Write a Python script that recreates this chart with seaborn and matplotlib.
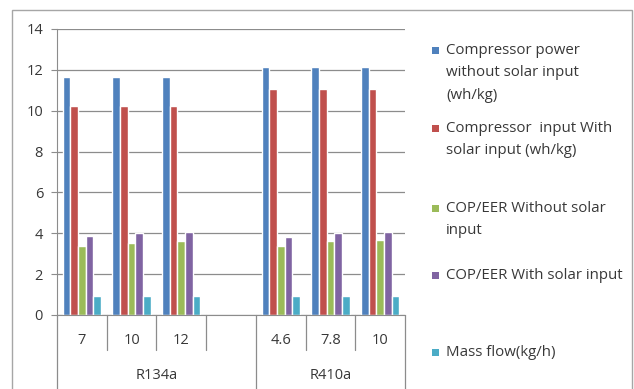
import numpy as np
import pandas as pd
import matplotlib
matplotlib.use("Agg")
import matplotlib.pyplot as plt
import matplotlib.transforms as mtransforms
from matplotlib.patches import Rectangle
import seaborn as sns

# category axis: two levels, one empty slot between the refrigerants
slots = ["s0", "s1", "s2", "s3", "s4", "s5", "s6"]
tick_labels = ["7", "10", "12", "", "4.6", "7.8", "10"]
groups = ["R134a", "R410a"]
group_spans = [(0, 3), (4, 6)]
data_slots = ["s0", "s1", "s2", "s4", "s5", "s6"]

series = ["Compressor power\nwithout solar input\n(wh/kg)",
          "Compressor  input With\nsolar input (wh/kg)",
          "COP/EER Without solar\ninput",
          "COP/EER With solar input",
          "Mass flow(kg/h)"]
comp_no_solar = [11.65, 11.65, 11.65, 12.15, 12.15, 12.15]
comp_solar = [10.25, 10.25, 10.25, 11.05, 11.05, 11.05]
cop_no_solar = [3.4, 3.52, 3.6, 3.4, 3.6, 3.65]
cop_solar = [3.85, 4.0, 4.05, 3.8, 4.0, 4.08]
mass_flow = [0.93, 0.93, 0.93, 0.93, 0.93, 0.93]
colors = ["#4F81BD", "#C0504D", "#9BBB59", "#8064A2", "#4BACC6"]

rows = []
for name, vals in zip(series, [comp_no_solar, comp_solar, cop_no_solar, cop_solar, mass_flow]):
    for s, v in zip(data_slots, vals):
        rows.append({"slot": s, "series": name, "value": v})
df = pd.DataFrame(rows)

sns.set_style("white")
plt.rcParams['font.family'] = ['Open Sans', 'DejaVu Sans']
txt = "#383838"
grid_c = "#8c8c8c"

fig = plt.figure(figsize=(6.34, 3.89), dpi=100)
ax = fig.add_axes([57/634, 74/389, 348/634, 286/389])

sns.barplot(data=df, x="slot", y="value", hue="series", order=slots,
            hue_order=series, palette=colors, width=0.77, gap=0,
            saturation=1, ax=ax, legend=True)

ax.set_ylim(0, 14)
ax.set_xlim(-0.5, 6.5)
ax.set_yticks(np.arange(0, 15, 2))
ax.yaxis.grid(True, color=grid_c, lw=0.9)
ax.set_axisbelow(True)
ax.set_xlabel("")
ax.set_ylabel("")
for sp in ["top", "right"]:
    ax.spines[sp].set_visible(False)
ax.spines["left"].set_color(grid_c)
ax.spines["bottom"].set_color(grid_c)
ax.tick_params(axis="y", left=True, length=4, color=grid_c, labelsize=10.5,
               labelcolor=txt, pad=6)
ax.set_xticks([])

# multi-level category axis
tr = mtransforms.blended_transform_factory(ax.transData, ax.transAxes)
for i, lab in enumerate(tick_labels):
    ax.text(i, -0.088, lab, transform=tr, ha="center", va="center",
            fontsize=10.5, color=txt)
long_edges = [-0.5, 3.5, 6.5]
for e in np.arange(-0.5, 7, 1.0):
    bottom = -0.28 if e in long_edges else -0.123
    ax.plot([e, e], [0, bottom], transform=tr, color=grid_c, lw=0.9,
            clip_on=False)
for g, (a, b) in zip(groups, group_spans):
    ax.text((a + b) / 2, -0.212, g, transform=tr, ha="center", va="center",
            fontsize=10.5, color=txt)

# legend entries placed one by one down the right side, square by first line
handles, labels = ax.get_legend_handles_labels()
ax.get_legend().remove()
first_line_y = [50, 128, 208, 275, 352]
for h, l, y in zip(handles, labels, first_line_y):
    fig.patches.append(Rectangle((432/634, 1 - (y + 4)/389), 7/634, 7/389,
                                 transform=fig.transFigure,
                                 facecolor=h.get_facecolor(), edgecolor="none"))
    fig.text(446/634, 1 - (y - 7)/389, l, ha="left", va="top", fontsize=10.8,
             color=txt, linespacing=1.68)

# chart-area border
fig.patches.append(Rectangle((12/634, -0.02), 620/634, 1.0 - 10/389 + 0.02,
                             transform=fig.transFigure, fill=False,
                             edgecolor="#a6a6a6", lw=1.0))

fig.savefig("out.png", dpi=100)
